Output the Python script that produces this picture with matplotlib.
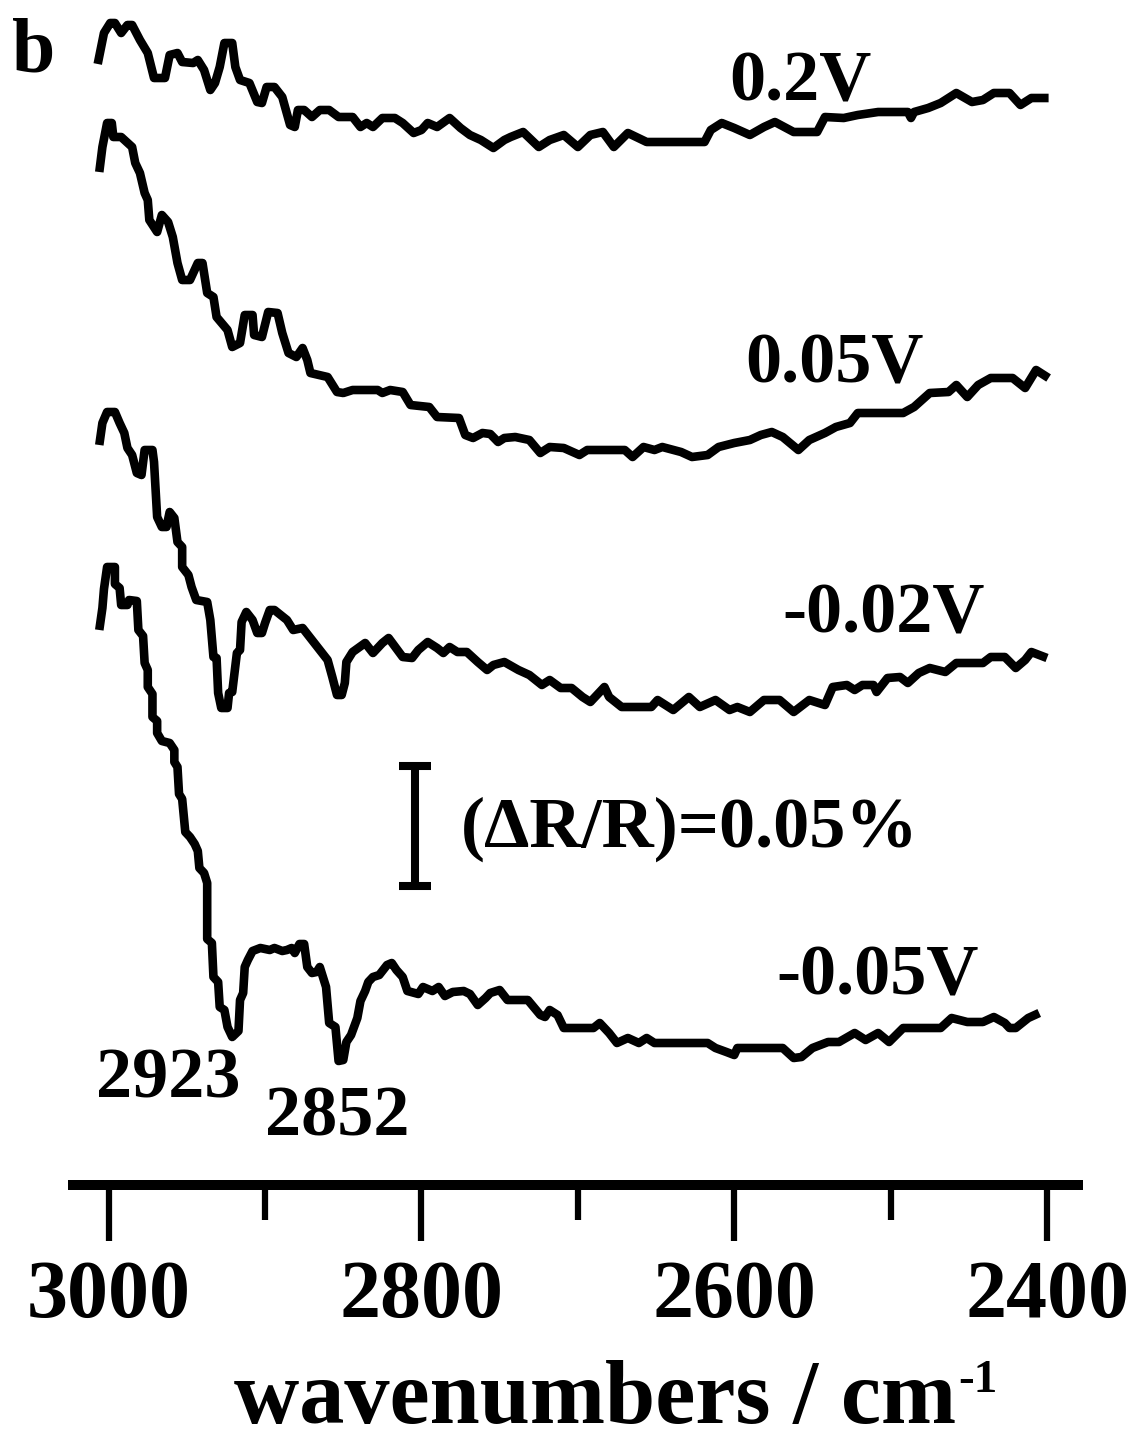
import matplotlib
matplotlib.use("Agg")
import matplotlib.pyplot as plt

plt.rcParams['font.family'] = ['Liberation Serif', 'DejaVu Serif']
plt.rcParams['font.weight'] = 'bold'

# spectra, wavenumber (cm-1) and offset intensity (a.u., 120 a.u. = 0.05 % dR/R)
wn_p020 = [3007, 3003, 2999, 2996, 2992, 2988, 2985, 2980, 2975, 2971, 2964, 2961, 2956, 2953,
           2946, 2943, 2939, 2935, 2932, 2929, 2926, 2921, 2919, 2916, 2910, 2905, 2902, 2899,
           2894, 2889, 2884, 2881, 2879, 2875, 2870, 2865, 2859, 2853, 2844, 2839, 2835, 2831,
           2825, 2817, 2812, 2805, 2800, 2796, 2790, 2782, 2775, 2769, 2762, 2754, 2747, 2743,
           2735, 2725, 2718, 2709, 2700, 2692, 2684, 2677, 2668, 2656, 2619, 2615, 2608, 2600,
           2590, 2581, 2574, 2562, 2547, 2542, 2530, 2521, 2508, 2489, 2487, 2485, 2476, 2468,
           2458, 2448, 2441, 2434, 2424, 2417, 2410, 2399]
sig_p020 = [1121, 1152, 1162, 1162, 1152, 1160, 1160, 1145, 1132, 1107, 1107, 1130, 1132, 1123,
            1122, 1125, 1115, 1095, 1102, 1118, 1142, 1142, 1118, 1105, 1102, 1083, 1082, 1098,
            1098, 1088, 1060, 1058, 1075, 1075, 1068, 1075, 1075, 1068, 1068, 1058, 1062, 1058,
            1067, 1067, 1062, 1052, 1055, 1062, 1058, 1067, 1057, 1050, 1045, 1037, 1045, 1048,
            1053, 1038, 1045, 1050, 1038, 1050, 1053, 1038, 1052, 1043, 1043, 1055, 1062, 1057,
            1050, 1058, 1063, 1053, 1053, 1068, 1067, 1070, 1073, 1073, 1067, 1073, 1077, 1082,
            1092, 1083, 1085, 1092, 1092, 1080, 1087, 1087]

wn_p005 = [3006, 3004, 3001, 2998, 2997, 2992, 2985, 2983, 2980, 2977, 2975, 2974, 2969, 2966,
           2962, 2959, 2956, 2953, 2948, 2943, 2940, 2937, 2933, 2931, 2924, 2921, 2916, 2913,
           2908, 2907, 2902, 2898, 2892, 2889, 2885, 2880, 2876, 2873, 2871, 2860, 2854, 2850,
           2844, 2828, 2825, 2820, 2812, 2807, 2795, 2790, 2776, 2772, 2767, 2761, 2756, 2751,
           2747, 2740, 2731, 2724, 2718, 2709, 2699, 2694, 2670, 2665, 2658, 2651, 2646, 2634,
           2627, 2617, 2610, 2600, 2590, 2583, 2576, 2569, 2559, 2552, 2542, 2535, 2526, 2521,
           2492, 2485, 2475, 2463, 2458, 2451, 2444, 2436, 2422, 2414, 2407, 2399]
sig_p005 = [1013, 1038, 1062, 1062, 1048, 1048, 1038, 1022, 1012, 992, 985, 965, 953, 970,
            963, 948, 922, 905, 905, 922, 922, 892, 888, 868, 855, 838, 842, 870,
            870, 850, 848, 873, 872, 852, 832, 828, 837, 825, 812, 808, 793, 792,
            795, 795, 792, 795, 793, 780, 778, 768, 767, 750, 747, 752, 751, 743,
            747, 748, 745, 732, 738, 737, 730, 735, 735, 728, 738, 735, 738, 733,
            728, 730, 738, 742, 745, 750, 753, 748, 735, 745, 752, 758, 762, 772,
            772, 778, 792, 793, 800, 788, 800, 807, 807, 797, 815, 807]

wn_m002 = [3006, 3004, 3001, 2996, 2993, 2990, 2988, 2985, 2982, 2979, 2977, 2972, 2971, 2969,
           2966, 2963, 2961, 2958, 2956, 2953, 2953, 2949, 2947, 2944, 2937, 2935, 2933, 2931,
           2930, 2928, 2924, 2923, 2921, 2918, 2916, 2915, 2912, 2908, 2905, 2902, 2900, 2897,
           2894, 2886, 2882, 2876, 2871, 2865, 2860, 2857, 2854, 2851, 2849, 2848, 2844, 2836,
           2831, 2825, 2821, 2812, 2806, 2802, 2796, 2790, 2786, 2782, 2777, 2771, 2764, 2758,
           2754, 2747, 2738, 2731, 2723, 2718, 2711, 2704, 2697, 2692, 2683, 2680, 2672, 2653,
           2649, 2639, 2629, 2622, 2612, 2603, 2598, 2590, 2581, 2571, 2562, 2552, 2542, 2537,
           2528, 2523, 2518, 2511, 2509, 2502, 2494, 2489, 2482, 2475, 2465, 2458, 2441, 2436,
           2427, 2420, 2414, 2410, 2400]
sig_m002 = [740, 762, 773, 773, 762, 752, 737, 730, 712, 710, 735, 735, 723, 668,
            658, 658, 673, 667, 643, 638, 618, 610, 598, 585, 583, 565, 528, 527,
            492, 477, 477, 492, 493, 532, 535, 563, 573, 565, 552, 552, 562, 575,
            575, 565, 555, 557, 547, 535, 525, 508, 490, 490, 502, 523, 533, 542,
            532, 542, 547, 528, 527, 535, 543, 537, 532, 538, 533, 533, 523, 515,
            520, 523, 515, 510, 500, 505, 497, 497, 488, 483, 498, 488, 478, 478,
            485, 475, 488, 478, 485, 475, 478, 473, 485, 485, 473, 485, 480, 498,
            500, 495, 500, 500, 493, 507, 508, 502, 512, 517, 513, 522, 522, 528,
            528, 517, 525, 533, 527]

wn_m005 = [3006, 3004, 3003, 3001, 2996, 2996, 2993, 2992, 2988, 2987, 2982, 2981, 2978, 2977,
           2975, 2975, 2972, 2972, 2969, 2969, 2966, 2961, 2958, 2958, 2956, 2955, 2953, 2951,
           2948, 2945, 2943, 2942, 2939, 2937, 2937, 2934, 2933, 2930, 2929, 2926, 2924, 2921,
           2917, 2916, 2914, 2913, 2911, 2908, 2903, 2897, 2894, 2889, 2886, 2883, 2881, 2878,
           2875, 2873, 2870, 2867, 2865, 2863, 2861, 2859, 2855, 2853, 2850, 2848, 2845, 2841,
           2839, 2836, 2834, 2831, 2827, 2822, 2819, 2816, 2812, 2809, 2802, 2799, 2793, 2789,
           2785, 2780, 2773, 2769, 2764, 2759, 2756, 2750, 2745, 2732, 2724, 2721, 2718, 2713,
           2709, 2690, 2686, 2680, 2675, 2668, 2661, 2656, 2651, 2617, 2612, 2605, 2600, 2598,
           2569, 2562, 2557, 2550, 2540, 2533, 2523, 2516, 2508, 2501, 2492, 2468, 2461, 2451,
           2441, 2434, 2427, 2424, 2420, 2412, 2405]
sig_m005 = [555, 577, 596, 618, 618, 601, 597, 580, 580, 585, 584, 555, 549, 522,
            515, 498, 491, 468, 464, 452, 444, 442, 435, 423, 418, 391, 386, 353,
            348, 341, 334, 317, 312, 302, 246, 242, 208, 203, 178, 175, 158, 148,
            154, 185, 192, 218, 225, 234, 237, 235, 237, 234, 235, 237, 232, 241,
            241, 218, 212, 213, 218, 208, 198, 162, 158, 124, 125, 143, 150, 167,
            184, 194, 203, 208, 210, 220, 222, 215, 208, 194, 191, 198, 194, 198,
            189, 193, 194, 191, 180, 187, 192, 195, 185, 185, 170, 168, 175, 170,
            157, 157, 162, 152, 142, 147, 142, 147, 142, 142, 137, 133, 130, 137,
            137, 127, 128, 137, 143, 143, 152, 145, 152, 143, 157, 157, 167, 163,
            163, 168, 162, 157, 157, 167, 172]

traces = [(wn_p020, sig_p020), (wn_p005, sig_p005), (wn_m002, sig_m002), (wn_m005, sig_m005)]
labels = ['0.2V', '0.05V', '-0.02V', '-0.05V']
label_pos = [(2603, 1085), (2593, 803), (2569, 553), (2573, 191)]
peaks = ['2923', '2852']
peak_pos = [(3008, 88), (2900, 50)]
scale_au = 120
scale_text = '(ΔR/R)=0.05%'

fig = plt.figure(figsize=(11.36, 14.47), dpi=100)
ax = fig.add_axes([68 / 1136, 1 - 1185 / 1447, 1015 / 1136, 1185 / 1447])

for wn, sig in traces:
    ax.plot(wn, sig, color='black', lw=6.2, solid_joinstyle='round', solid_capstyle='butt')

for lab, (x, y) in zip(labels, label_pos):
    ax.text(x, y, lab, fontsize=52, fontweight='bold', ha='left', va='baseline')

for lab, (x, y) in zip(peaks, peak_pos):
    ax.text(x, y, lab, fontsize=52, fontweight='bold', ha='left', va='baseline')

# scale bar
ax.errorbar([2804], [359], yerr=[scale_au / 2], fmt='none', ecolor='black',
            elinewidth=5.8, capsize=11.5, capthick=5.8)
ax.text(2775, 338, scale_text, fontsize=52, fontweight='bold', ha='left', va='baseline')

ax.set_xlim(3026, 2377)
ax.set_ylim(0, 1185)
ax.set_xticks([3000, 2800, 2600, 2400])
ax.set_xticks([2900, 2700, 2500], minor=True)
ax.tick_params(axis='x', which='major', length=40, width=4.5, pad=14, labelsize=59)
ax.tick_params(axis='x', which='minor', length=25, width=4.5)
ax.set_yticks([])
for side in ['left', 'right', 'top']:
    ax.spines[side].set_visible(False)
ax.spines['bottom'].set_linewidth(7.2)
ax.spines['bottom'].set_capstyle('butt')

xlab = ax.set_xlabel('wavenumbers / cm', fontsize=65, fontweight='bold')
ax.xaxis.set_label_coords(0.519, -0.148)
ax.annotate('-1', xy=(1, 1), xycoords=xlab, xytext=(2, 0), textcoords='offset points',
            fontsize=34, fontweight='bold', ha='left', va='top')

fig.text(12 / 1136, 1 - 72 / 1447, 'b', fontsize=56, fontweight='bold', va='baseline')

fig.savefig('out.png', dpi=100)
